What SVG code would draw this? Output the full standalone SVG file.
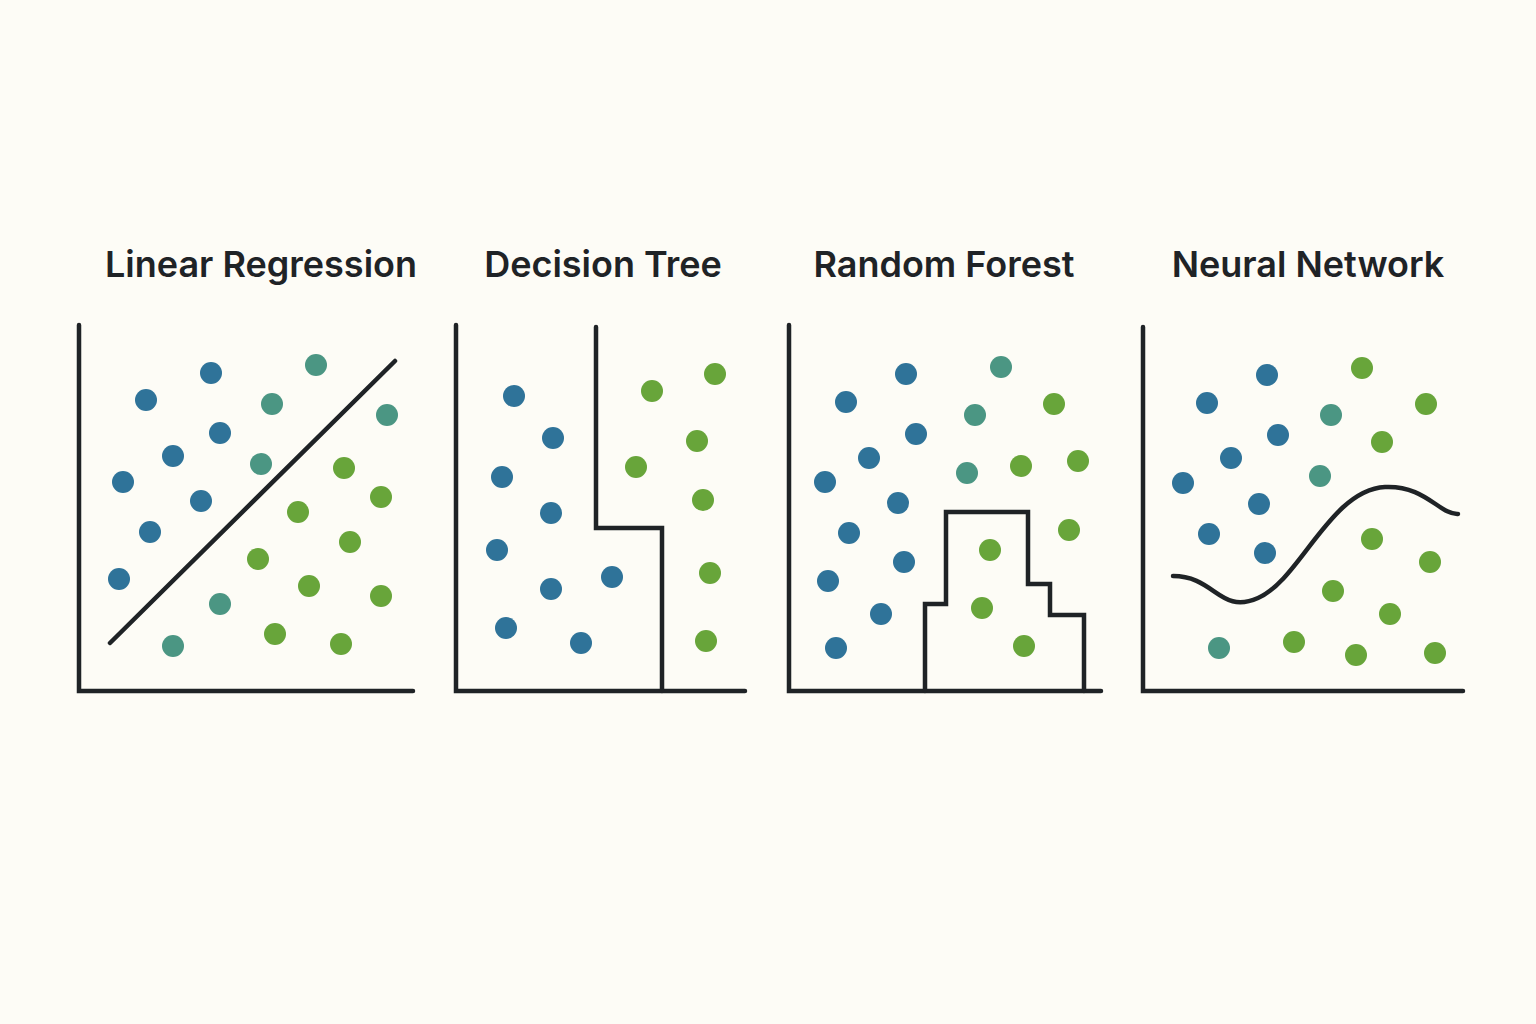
<svg xmlns="http://www.w3.org/2000/svg" width="1536" height="1024" viewBox="0 0 1536 1024">
<style>
.t{font-family:Inter,"Noto Sans",sans-serif;font-size:36px;font-weight:600;fill:#1f2326;text-anchor:middle}
.ax,.ln{fill:none;stroke:#1f2326;stroke-width:4.5;stroke-linecap:round;stroke-linejoin:miter}
.b{fill:#2f7399}.c{fill:#4b9683}.g{fill:#68a53a}
</style>
<rect width="1536" height="1024" fill="#fdfcf6"/>
<g id="lr">
<text class="t" x="261" y="277">Linear Regression</text>
<path class="ax" d="M79,325V691H413"/>
<g id="connectors-lr"><path class="ln" d="M110,643L395,361"/></g>
<g class="b"><circle cx="146" cy="400" r="11"/><circle cx="211" cy="373" r="11"/><circle cx="220" cy="433" r="11"/><circle cx="173" cy="456" r="11"/><circle cx="123" cy="482" r="11"/><circle cx="201" cy="501" r="11"/><circle cx="150" cy="532" r="11"/><circle cx="119" cy="579" r="11"/></g>
<g class="c"><circle cx="316" cy="365" r="11"/><circle cx="272" cy="404" r="11"/><circle cx="387" cy="415" r="11"/><circle cx="261" cy="464" r="11"/><circle cx="220" cy="604" r="11"/><circle cx="173" cy="646" r="11"/></g>
<g class="g"><circle cx="344" cy="468" r="11"/><circle cx="381" cy="497" r="11"/><circle cx="298" cy="512" r="11"/><circle cx="350" cy="542" r="11"/><circle cx="258" cy="559" r="11"/><circle cx="309" cy="586" r="11"/><circle cx="381" cy="596" r="11"/><circle cx="275" cy="634" r="11"/><circle cx="341" cy="644" r="11"/></g>
</g>
<g id="dt">
<text class="t" x="603" y="277">Decision Tree</text>
<path class="ax" d="M456,325V691H745"/>
<path class="ln" d="M596,327V528H662V691"/>
<g class="b"><circle cx="514" cy="396" r="11"/><circle cx="553" cy="438" r="11"/><circle cx="502" cy="477" r="11"/><circle cx="551" cy="513" r="11"/><circle cx="497" cy="550" r="11"/><circle cx="551" cy="589" r="11"/><circle cx="612" cy="577" r="11"/><circle cx="506" cy="628" r="11"/><circle cx="581" cy="643" r="11"/></g>
<g class="g"><circle cx="715" cy="374" r="11"/><circle cx="652" cy="391" r="11"/><circle cx="697" cy="441" r="11"/><circle cx="636" cy="467" r="11"/><circle cx="703" cy="500" r="11"/><circle cx="710" cy="573" r="11"/><circle cx="706" cy="641" r="11"/></g>
</g>
<g id="rf">
<text class="t" x="944" y="277">Random Forest</text>
<path class="ax" d="M789,325V691H1101"/>
<path class="ln" d="M925,691V604H946V512H1028V584H1050V615H1084V691"/>
<g class="b"><circle cx="906" cy="374" r="11"/><circle cx="846" cy="402" r="11"/><circle cx="916" cy="434" r="11"/><circle cx="869" cy="458" r="11"/><circle cx="825" cy="482" r="11"/><circle cx="898" cy="503" r="11"/><circle cx="849" cy="533" r="11"/><circle cx="904" cy="562" r="11"/><circle cx="828" cy="581" r="11"/><circle cx="881" cy="614" r="11"/><circle cx="836" cy="648" r="11"/></g>
<g class="c"><circle cx="1001" cy="367" r="11"/><circle cx="975" cy="415" r="11"/><circle cx="967" cy="473" r="11"/></g>
<g class="g"><circle cx="1054" cy="404" r="11"/><circle cx="1021" cy="466" r="11"/><circle cx="1078" cy="461" r="11"/><circle cx="1069" cy="530" r="11"/><circle cx="990" cy="550" r="11"/><circle cx="982" cy="608" r="11"/><circle cx="1024" cy="646" r="11"/></g>
</g>
<g id="nn">
<text class="t" x="1308" y="277">Neural Network</text>
<path class="ax" d="M1143,327V691H1463"/>
<path class="ln" d="M1173,576C1215,576 1220,615 1258,598C1300,580 1330,490 1385,487C1425,485 1440,515 1458,514"/>
<g class="b"><circle cx="1267" cy="375" r="11"/><circle cx="1207" cy="403" r="11"/><circle cx="1278" cy="435" r="11"/><circle cx="1231" cy="458" r="11"/><circle cx="1183" cy="483" r="11"/><circle cx="1259" cy="504" r="11"/><circle cx="1209" cy="534" r="11"/><circle cx="1265" cy="553" r="11"/></g>
<g class="c"><circle cx="1331" cy="415" r="11"/><circle cx="1320" cy="476" r="11"/><circle cx="1219" cy="648" r="11"/></g>
<g class="g"><circle cx="1362" cy="368" r="11"/><circle cx="1426" cy="404" r="11"/><circle cx="1382" cy="442" r="11"/><circle cx="1372" cy="539" r="11"/><circle cx="1430" cy="562" r="11"/><circle cx="1333" cy="591" r="11"/><circle cx="1390" cy="614" r="11"/><circle cx="1294" cy="642" r="11"/><circle cx="1356" cy="655" r="11"/><circle cx="1435" cy="653" r="11"/></g>
</g>
</svg>
